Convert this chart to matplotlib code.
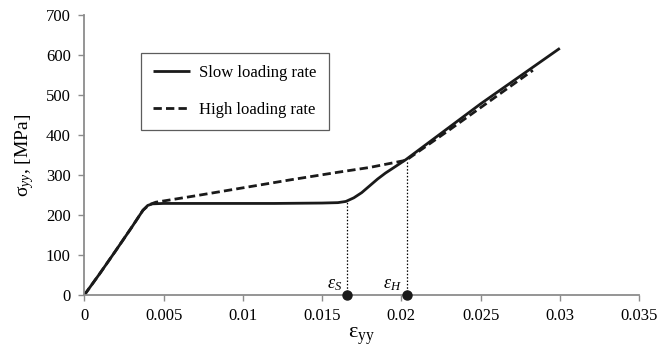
import matplotlib
matplotlib.use("Agg")
import matplotlib.pyplot as plt
import numpy as np

plt.rcParams['font.family'] = ['Liberation Serif', 'DejaVu Serif']
plt.rcParams['mathtext.fontset'] = 'custom'
plt.rcParams['mathtext.rm'] = 'Liberation Serif'
plt.rcParams['mathtext.it'] = 'Liberation Serif:italic'

# Data
slow_strain = [0, 0.001, 0.002, 0.003, 0.0037, 0.0040, 0.0043, 0.005, 0.008, 0.012,
               0.015, 0.0160, 0.0165, 0.0170, 0.0175, 0.0180, 0.0185, 0.0190, 0.0195,
               0.0203, 0.025, 0.030]
slow_stress = [0, 55, 112, 170, 212, 224, 228, 229, 229, 229,
               230, 231, 234, 243, 256, 273, 290, 305, 318,
               339, 478, 617]
high_strain = [0, 0.001, 0.002, 0.003, 0.0037, 0.0041, 0.0045, 0.007, 0.010, 0.013,
               0.016, 0.018, 0.0203, 0.023, 0.0283]
high_stress = [0, 55, 112, 170, 212, 226, 232, 248, 268, 288,
               307, 319, 337, 412, 562]
marker_strain = [0.01658, 0.02033]
marker_stress = [234, 338]
marker_labels = [r'$\varepsilon_S$', r'$\varepsilon_H$']
x_ticks = [0, 0.005, 0.01, 0.015, 0.02, 0.025, 0.03, 0.035]
x_ticklabels = ['0', '0.005', '0.01', '0.015', '0.02', '0.025', '0.03', '0.035']
y_ticks = [0, 100, 200, 300, 400, 500, 600, 700]

fig = plt.figure(figsize=(6.72, 3.51), dpi=100)
ax = fig.add_axes([0.1255, 0.1595, 0.8255, 0.7975])

ax.plot(slow_strain, slow_stress, color='#1a1a1a', lw=2.0, label='Slow loading rate',
        solid_capstyle='butt')
ax.plot(high_strain, high_stress, color='#1a1a1a', lw=2.0, ls=(0, (3.0, 1.5)),
        label='High loading rate')

for xs, ys, lab in zip(marker_strain, marker_stress, marker_labels):
    ax.plot([xs, xs], [0, ys], color='black', lw=0.9, ls=(0, (1.2, 1.5)))
    ax.plot([xs], [0], 'o', color='#1a1a1a', ms=6.5, clip_on=False, zorder=5)
    ax.text(xs - 0.0003, 4, lab, ha='right', va='bottom', fontsize=13)

ax.set_xlim(0, 0.035)
ax.set_ylim(0, 700)
ax.set_xticks(x_ticks)
ax.set_xticklabels(x_ticklabels)
ax.set_yticks(y_ticks)

for s in ['top', 'right']:
    ax.spines[s].set_visible(False)
for s in ['left', 'bottom']:
    ax.spines[s].set_color('#8c8c8c')
    ax.spines[s].set_linewidth(1.3)
ax.tick_params(axis='both', colors='#8c8c8c', labelcolor='black', labelsize=12,
               length=4.3, width=1, direction='out')
ax.tick_params(axis='y', pad=5.5)
ax.tick_params(axis='x', pad=5)

ax.set_ylabel(r'σ$_{yy}$, [MPa]', fontsize=14, labelpad=7)
ax.set_xlabel(r'ε$_{\mathrm{yy}}$', fontsize=16, labelpad=1)

leg = ax.legend(loc='upper left', bbox_to_anchor=(0.102, 0.866), fontsize=12,
                frameon=True, fancybox=False, handlelength=2.2, handletextpad=0.55,
                labelspacing=1.25, borderpad=0.75, borderaxespad=0)
leg.get_frame().set_edgecolor('#333333')
leg.get_frame().set_linewidth(0.9)

fig.savefig('out.png', dpi=100)
